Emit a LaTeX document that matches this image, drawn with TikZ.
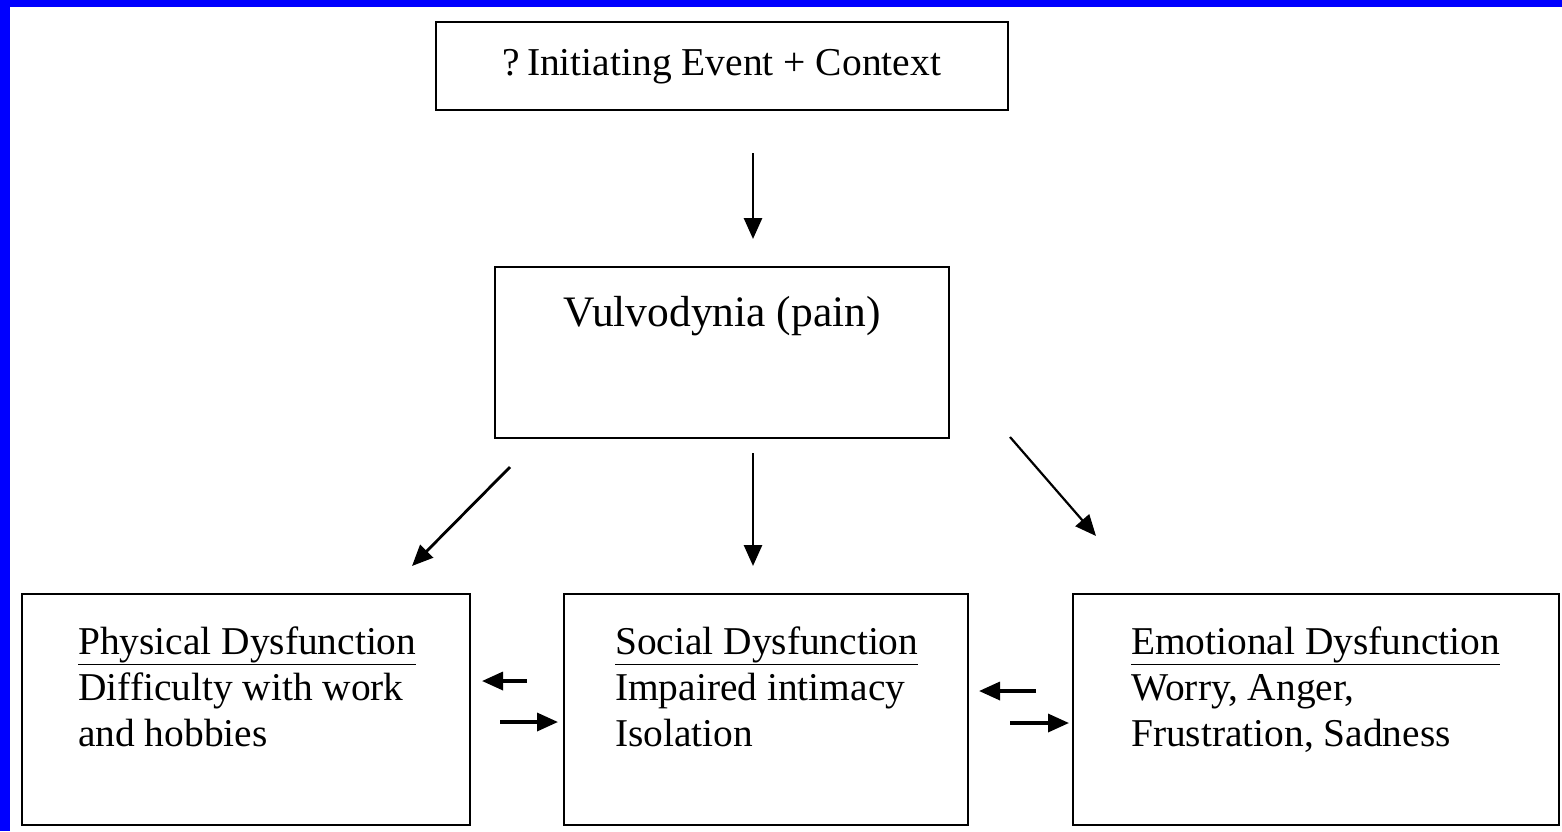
\documentclass[tikz,border=0pt]{standalone}
\usepackage{fontspec}
\setmainfont{Liberation Serif}
\usetikzlibrary{arrows.meta}
\begin{document}
\begin{tikzpicture}[x=1pt,y=-1pt,
  box/.style={draw=black,line width=2.4pt,inner sep=0pt},
  lbl/.style={inner sep=0pt,anchor=base west,font=\fontsize{39.4}{46}\selectfont,align=left},
  arr/.style={line width=2.8pt,-{Triangle[length=21pt,width=18pt]}}]
\fill[blue] (0,0) rectangle (1562,831);
\fill[white] (10,7) rectangle (1562,831);
\useasboundingbox (0,0) rectangle (1562,831);
% boxes
\node[box,minimum width=572pt,minimum height=88pt] (top) at (722,66) {};
\node[box,minimum width=454pt,minimum height=171pt] (vul) at (722,352.5) {};
\node[box,minimum width=448pt,minimum height=231pt] (phys) at (246,709.5) {};
\node[box,minimum width=404pt,minimum height=231pt] (soc) at (766,709.5) {};
\node[box,minimum width=486pt,minimum height=231pt] (emo) at (1316,709.5) {};
% texts
\node[inner sep=0pt,anchor=base,font=\fontsize{39.5}{46}\selectfont] (ttop) at (722,75) {?\,Initiating Event + Context};
\node[inner sep=0pt,anchor=base,font=\fontsize{43.5}{50}\selectfont] (tvul) at (722,326) {Vulvodynia (pain)};
\node[lbl] (tphys) at (78,746) {\underline{Physical Dysfunction}\\Difficulty with work\\and hobbies};
\node[lbl] (tsoc) at (615,746) {\underline{Social Dysfunction}\\Impaired intimacy\\Isolation};
\node[lbl] (temo) at (1131,746) {\underline{Emotional Dysfunction}\\Worry, Anger,\\Frustration, Sadness};
% arrow coordinates
\coordinate (a1s) at (753,153); \coordinate (a1e) at (753,239);
\coordinate (a2s) at (510,467); \coordinate (a2e) at (412,566);
\coordinate (a3s) at (753,453); \coordinate (a3e) at (753,566);
\coordinate (a4s) at (1010,437); \coordinate (a4e) at (1096,536);
\coordinate (b1s) at (527,681); \coordinate (b1e) at (482,681);
\coordinate (b2s) at (500,722); \coordinate (b2e) at (558,722);
\coordinate (c1s) at (1036,691); \coordinate (c1e) at (979,691);
\coordinate (c2s) at (1010,723); \coordinate (c2e) at (1069,723);
\draw[arr] (a1s) -- (a1e);
\draw[arr] (a2s) -- (a2e);
\draw[arr] (a3s) -- (a3e);
\draw[arr,line width=2.2pt] (a4s) -- (a4e);
\draw[arr,line width=3.4pt] (b1s) -- (b1e);
\draw[arr,line width=3.4pt] (b2s) -- (b2e);
\draw[arr,line width=3.4pt] (c1s) -- (c1e);
\draw[arr,line width=3.4pt] (c2s) -- (c2e);
\end{tikzpicture}
\end{document}
